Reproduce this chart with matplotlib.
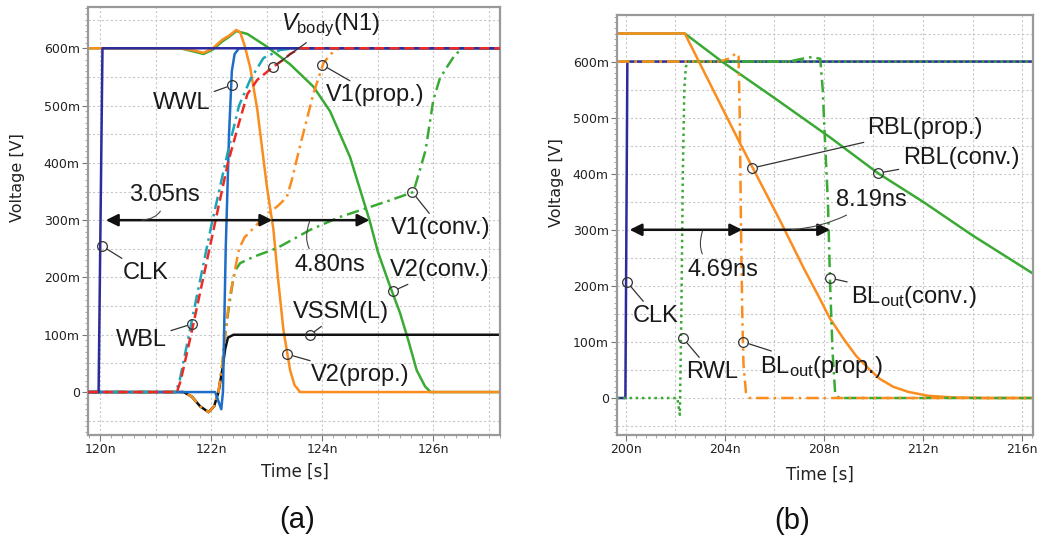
import numpy as np
import matplotlib.pyplot as plt
from matplotlib.ticker import FuncFormatter, MultipleLocator

plt.rcParams["mathtext.fontset"] = "custom"
plt.rcParams["mathtext.rm"] = "Liberation Sans"
plt.rcParams["mathtext.it"] = "Liberation Sans:italic"

NAVY = "#2b2b9e"
BLUE = "#1e6ec8"
RED = "#ee2a24"
TEAL = "#1ba6b8"
ORANGE = "#fb8c1e"
GREEN = "#3aaa35"
BLACK = "#111111"

# ---- panel (a): write operation, time in ns, voltage in V ----
A_XLIM = (119.78, 127.2)
A_YLIM = (-0.075, 0.672)

a_clk_t = [119.78, 119.97, 120.04, 127.2]
a_clk_v = [0.0, 0.0, 0.6, 0.6]

a_wwl_t = [119.78, 122.07, 122.18, 122.21, 122.26, 122.32, 122.37, 122.42, 122.5, 127.2]
a_wwl_v = [0.0, 0.0, -0.03, 0.0, 0.25, 0.45, 0.56, 0.59, 0.6, 0.6]

a_vbody_t = [119.78, 121.38, 121.45, 121.68, 122.04, 122.3, 122.5, 122.65, 122.83,
             123.12, 123.3, 123.42, 123.6, 127.2]
a_vbody_v = [0.0, 0.0, 0.02, 0.12, 0.283, 0.40, 0.47, 0.52, 0.545,
             0.568, 0.58, 0.59, 0.6, 0.6]

a_wbl_t = [119.78, 121.36, 121.43, 121.65, 122.0, 122.3, 122.5, 122.7, 122.94, 123.24, 123.5, 127.2]
a_wbl_v = [0.0, 0.0, 0.02, 0.125, 0.29, 0.42, 0.50, 0.545, 0.583, 0.597, 0.6, 0.6]

a_vssm_t = [119.78, 121.5, 121.65, 121.8, 121.95, 122.05, 122.13, 122.2, 122.25, 122.3, 122.4, 127.2]
a_vssm_v = [0.0, 0.0, -0.008, -0.025, -0.035, -0.025, 0.0, 0.04, 0.075, 0.095, 0.1, 0.1]

a_v1p_t = [119.78, 121.5, 121.65, 121.8, 121.95, 122.05, 122.13, 122.2, 122.25, 122.32, 122.4,
           122.5, 122.6, 122.8, 122.94, 123.2, 123.36, 123.45, 123.6, 123.84, 124.02, 124.15, 124.3, 127.2]
a_v1p_v = [0.0, 0.0, -0.008, -0.025, -0.035, -0.025, 0.0, 0.05, 0.1, 0.16, 0.2,
           0.25, 0.27, 0.29, 0.305, 0.325, 0.34, 0.37, 0.43, 0.521, 0.574, 0.59, 0.6, 0.6]

a_v1c_t = [119.78, 121.5, 121.65, 121.8, 121.95, 122.05, 122.13, 122.2, 122.25, 122.32, 122.4,
           122.45, 122.52, 122.76, 123.18, 123.78, 124.3, 124.8, 125.2, 125.64, 125.75, 125.86,
           126.0, 126.12, 126.25, 126.4, 126.55, 127.2]
a_v1c_v = [0.0, 0.0, -0.008, -0.025, -0.035, -0.025, 0.0, 0.05, 0.1, 0.15, 0.2,
           0.215, 0.225, 0.236, 0.251, 0.283, 0.305, 0.321, 0.334, 0.349, 0.385, 0.422,
           0.51, 0.548, 0.568, 0.59, 0.6, 0.6]

a_v2p_t = [119.78, 121.44, 121.7, 121.86, 122.03, 122.2, 122.32, 122.45, 122.52, 122.6, 122.7,
           122.83, 123.0, 123.12, 123.2, 123.3, 123.42, 123.5, 123.6, 127.2]
a_v2p_v = [0.6, 0.6, 0.596, 0.592, 0.6, 0.615, 0.622, 0.632, 0.628, 0.605, 0.567,
           0.492, 0.36, 0.283, 0.2, 0.108, 0.038, 0.012, 0.0, 0.0]

a_v2c_t = [119.78, 121.44, 121.7, 121.86, 122.03, 122.2, 122.32, 122.45, 122.65, 123.0, 123.42,
           123.84, 124.14, 124.5, 124.85, 125.0, 125.2, 125.4, 125.55, 125.7, 125.85, 125.95, 127.2]
a_v2c_v = [0.6, 0.6, 0.594, 0.59, 0.598, 0.612, 0.62, 0.63, 0.625, 0.603, 0.572,
           0.533, 0.49, 0.41, 0.30, 0.245, 0.19, 0.138, 0.09, 0.038, 0.01, 0.0, 0.0]

# ---- panel (b): read operation ----
B_XLIM = (199.64, 216.44)
B_YLIM = (-0.066, 0.683)

b_clk_t = [199.64, 199.98, 200.06, 216.44]
b_clk_v = [0.0, 0.0, 0.6, 0.6]

b_rwl_t = [199.64, 202.08, 202.18, 202.24, 202.3, 202.36, 202.42, 202.5, 216.44]
b_rwl_v = [0.0, 0.0, -0.03, 0.15, 0.4, 0.55, 0.59, 0.6, 0.6]

b_blp_t = [199.64, 203.8, 204.2, 204.45, 204.55, 204.6, 204.65, 204.7, 204.75, 204.85, 205.0, 216.44]
b_blp_v = [0.6, 0.6, 0.606, 0.615, 0.61, 0.5, 0.3, 0.15, 0.06, 0.01, 0.0, 0.0]

b_blc_t = [199.64, 206.6, 207.0, 207.5, 207.85, 207.95, 208.05, 208.16, 208.25, 208.35, 208.45, 208.6, 216.44]
b_blc_v = [0.6, 0.6, 0.604, 0.608, 0.605, 0.55, 0.45, 0.35, 0.2, 0.08, 0.01, 0.0, 0.0]

b_rblp_t = [199.64, 202.38, 204.6, 206.22, 207.2, 207.8, 208.24, 208.8, 209.3, 209.86, 210.26,
            210.8, 211.4, 212.2, 213.2, 214.5, 216.44]
b_rblp_v = [0.65, 0.65, 0.455, 0.317, 0.23, 0.18, 0.142, 0.105, 0.075, 0.05, 0.034,
            0.02, 0.011, 0.004, 0.001, 0.0, 0.0]

b_rblc_t = [199.64, 202.38, 203.88, 206.0, 208.24, 210.18, 212.0, 214.0, 216.44]
b_rblc_v = [0.65, 0.65, 0.6, 0.535, 0.465, 0.401, 0.35, 0.29, 0.222]

# labels: (text, marker t, marker v, text t, text v)
a_labels = [
    ("CLK", 120.03, 0.255, 120.81, 0.208),
    ("WWL", 122.38, 0.536, 121.46, 0.504),
    (r"$V_{\rm body}$(N1)", 123.12, 0.568, 124.14, 0.64),
    ("V1(prop.)", 124.0, 0.571, 124.95, 0.518),
    ("V1(conv.)", 125.62, 0.349, 126.14, 0.286),
    ("V2(conv.)", 125.27, 0.176, 126.11, 0.213),
    ("WBL", 121.66, 0.119, 120.74, 0.091),
    ("VSSM(L)", 123.78, 0.1, 124.34, 0.14),
    ("V2(prop.)", 123.37, 0.066, 124.68, 0.03),
]
b_labels = [
    ("RBL(prop.)", 205.09, 0.41, 212.08, 0.481),
    ("RBL(conv.)", 210.18, 0.401, 213.54, 0.428),
    ("CLK", 200.04, 0.207, 201.21, 0.146),
    ("RWL", 202.3, 0.107, 203.47, 0.046),
    (r"BL$_{\rm out}$(prop.)", 204.73, 0.1, 207.92, 0.055),
    (r"BL$_{\rm out}$(conv.)", 208.24, 0.214, 211.64, 0.18),
]
# delay arrows: start, mid, end at y; texts: (text, text t, text v, squiggle t, squiggle v, bend)
a_delay = (120.1, 123.1, 124.85, 0.3)
a_delay_text = [("3.05ns", 121.15, 0.344, 120.72, 0.3, -0.5),
                ("4.80ns", 124.13, 0.222, 123.78, 0.3, -0.5)]
b_delay = (200.15, 204.7, 208.25, 0.3)
b_delay_text = [("4.69ns", 203.92, 0.228, 203.11, 0.3, -0.5),
                ("8.19ns", 209.9, 0.353, 206.63, 0.3, -0.15)]

LABEL_FONT = dict(family="Liberation Sans", fontsize=17, color="#1a1a1a")


def style_axes(ax, xlim, ylim, xmajor, xminor, xgrid):
    ax.set_xlim(*xlim)
    ax.set_ylim(*ylim)
    for x in np.arange(np.ceil(xlim[0] / xgrid) * xgrid, xlim[1], xgrid):
        ax.axvline(x, color="#c8c8c8", lw=0.8, ls=(0, (2, 2)), zorder=0)
    for y in np.arange(-0.05, ylim[1], 0.05):
        ax.axhline(y, color="#c8c8c8", lw=0.8, ls=(0, (2, 2)), zorder=0)
    ax.xaxis.set_major_locator(MultipleLocator(xmajor))
    ax.xaxis.set_minor_locator(MultipleLocator(xminor))
    ax.yaxis.set_major_locator(MultipleLocator(0.1))
    ax.yaxis.set_minor_locator(MultipleLocator(0.01))
    ax.xaxis.set_major_formatter(FuncFormatter(lambda t, _: f"{int(round(t))}n"))
    ax.yaxis.set_major_formatter(
        FuncFormatter(lambda v, _: "0" if abs(v) < 1e-9 else f"{int(round(v * 1000))}m")
    )
    ax.tick_params(which="major", direction="out", length=4, width=0.8, color="#777",
                   labelsize=9, labelcolor="#222", pad=2)
    ax.tick_params(which="minor", direction="out", length=2.5, width=0.6, color="#999")
    ax.tick_params(axis="x", pad=2)
    for s in ax.spines.values():
        s.set_color("#9a9a9a")
        s.set_linewidth(1.6)


def draw_labels(ax, labels):
    for text, mt, mv, tt, tv in labels:
        ax.annotate(text, xy=(mt, mv), xytext=(tt, tv), ha="center", va="center",
                    arrowprops=dict(arrowstyle="-", color="#333", lw=0.9, shrinkA=1, shrinkB=4),
                    zorder=6, **LABEL_FONT)
        ax.plot(mt, mv, "o", ms=7, mfc="none", mec="#333", mew=0.9, zorder=6)


def draw_delay(ax, delay, texts):
    x0, x1, x2, y = delay
    arrow = dict(color=BLACK, lw=1.8, mutation_scale=18, shrinkA=0, shrinkB=0)
    ax.annotate("", xy=(x1, y), xytext=(x0, y), arrowprops=dict(arrowstyle="<|-|>", **arrow), zorder=5)
    ax.annotate("", xy=(x2, y), xytext=(x1, y), arrowprops=dict(arrowstyle="-|>", **arrow), zorder=5)
    for text, tt, tv, st, sv, bend in texts:
        ax.annotate(text, xy=(st, sv), xytext=(tt, tv), ha="center", va="center",
                    arrowprops=dict(arrowstyle="-", color="#444", lw=0.8, shrinkA=2, shrinkB=1,
                                    connectionstyle=f"arc3,rad={bend}"),
                    zorder=6, **LABEL_FONT)


def main() -> None:
    fig = plt.figure(figsize=(10.42, 5.4), dpi=100)

    ax_a = fig.add_axes([0.0845, 0.1944, 0.3953, 0.7926])
    style_axes(ax_a, A_XLIM, A_YLIM, 2, 0.2, 1)
    lw = 1.8
    ax_a.plot(a_v2c_t, a_v2c_v, color=GREEN, lw=lw, zorder=2)
    ax_a.plot(a_v2p_t, a_v2p_v, color=ORANGE, lw=lw, zorder=2.1)
    ax_a.plot(a_v1c_t, a_v1c_v, color=GREEN, lw=lw, ls=(0, (5, 2, 1, 2)), zorder=2.2)
    ax_a.plot(a_vssm_t, a_vssm_v, color=BLACK, lw=lw, zorder=2.3)
    ax_a.plot(a_v1p_t, a_v1p_v, color=ORANGE, lw=lw, ls=(0, (5, 2, 1, 2)), zorder=2.4)
    ax_a.plot(a_wwl_t, a_wwl_v, color=BLUE, lw=lw, zorder=2.5)
    ax_a.plot(a_wbl_t, a_wbl_v, color=TEAL, lw=lw, ls=(0, (5, 2, 1, 2)), zorder=2.6)
    ax_a.plot(a_clk_t, a_clk_v, color=NAVY, lw=lw, zorder=2.7)
    ax_a.plot(a_vbody_t, a_vbody_v, color=RED, lw=lw, ls=(0, (4, 2)), zorder=2.8)
    draw_delay(ax_a, a_delay, a_delay_text)
    draw_labels(ax_a, a_labels)

    ax_b = fig.add_axes([0.5921, 0.1944, 0.3992, 0.7778])
    style_axes(ax_b, B_XLIM, B_YLIM, 4, 0.4, 2)
    ax_b.plot(b_rblc_t, b_rblc_v, color=GREEN, lw=lw, zorder=2)
    ax_b.plot(b_rblp_t, b_rblp_v, color=ORANGE, lw=lw, zorder=2.1)
    ax_b.plot(b_clk_t, b_clk_v, color=NAVY, lw=lw, zorder=2.2)
    ax_b.plot(b_blc_t, b_blc_v, color=GREEN, lw=lw, ls=(0, (5, 2, 1, 2)), zorder=2.3)
    ax_b.plot(b_blp_t, b_blp_v, color=ORANGE, lw=lw, ls=(0, (5, 2, 1, 2)), zorder=2.4)
    ax_b.plot(b_rwl_t, b_rwl_v, color=GREEN, lw=lw, ls=(0, (1, 1.5)), zorder=2.5)
    draw_delay(ax_b, b_delay, b_delay_text)
    draw_labels(ax_b, b_labels)

    # axis titles and captions
    fig.text(18 / 1042, 1 - 178 / 540, "Voltage [V]", rotation=90, ha="center", va="center",
             fontsize=11.5, color="#222")
    fig.text(557 / 1042, 1 - 183 / 540, "Voltage [V]", rotation=90, ha="center", va="center",
             fontsize=11.5, color="#222")
    fig.text(295 / 1042, 1 - 472 / 540, "Time [s]", ha="center", va="center", fontsize=12, color="#222")
    fig.text(820 / 1042, 1 - 475 / 540, "Time [s]", ha="center", va="center", fontsize=12, color="#222")
    fig.text(297 / 1042, 1 - 520 / 540, "(a)", ha="center", va="center", family="Liberation Sans",
             fontsize=21, color="#111")
    fig.text(792 / 1042, 1 - 521 / 540, "(b)", ha="center", va="center", family="Liberation Sans",
             fontsize=21, color="#111")

    fig.savefig("out.png", dpi=100)
    plt.close(fig)


if __name__ == "__main__":
    main()
